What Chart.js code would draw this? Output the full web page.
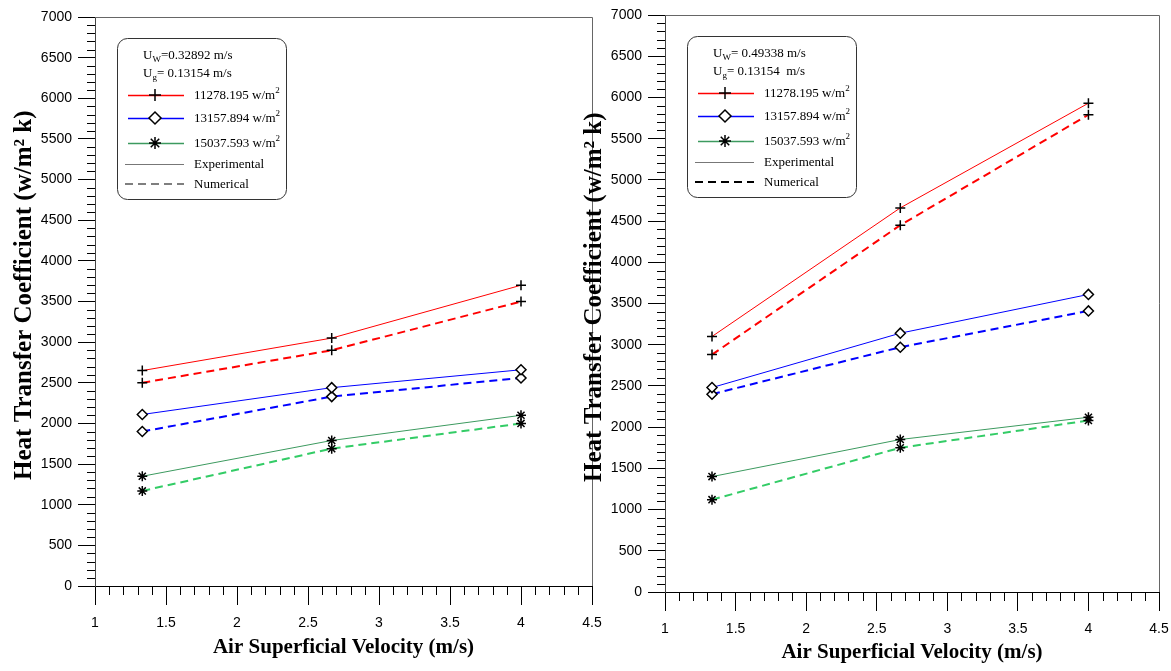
<!DOCTYPE html>
<html>
<head>
<meta charset="utf-8">
<script src="https://cdn.jsdelivr.net/npm/chart.js@4.4.0/dist/chart.umd.min.js"></script>
<style>
  html, body { margin: 0; padding: 0; background: #fff; }
  body { width: 1171px; height: 671px; position: relative; overflow: hidden; }
  .panel { position: absolute; top: 0; height: 671px; }
  #left { left: 0; width: 610px; }
  #right { left: 570px; width: 601px; }
</style>
</head>
<body>
<div class="panel" id="left"><canvas id="chartA" width="610" height="671"></canvas></div>
<div class="panel" id="right"><canvas id="chartB" width="601" height="671"></canvas></div>
<script>
/* Heat transfer coefficient vs air superficial velocity - two panels */

// ---- DATA ----
const velocity = [1.333, 2.667, 4.0];
const heatFluxLabels = ['11278.195 w/m', '13157.894 w/m', '15037.593 w/m'];

// left panel, Uw = 0.32892 m/s
const leftExp1 = [2650, 3050, 3700];
const leftNum1 = [2500, 2900, 3500];
const leftExp2 = [2110, 2440, 2660];
const leftNum2 = [1900, 2330, 2560];
const leftExp3 = [1350, 1790, 2100];
const leftNum3 = [1170, 1690, 2000];

// right panel, Uw = 0.49338 m/s
const rightExp1 = [3100, 4660, 5930];
const rightNum1 = [2880, 4450, 5790];
const rightExp2 = [2480, 3140, 3610];
const rightNum2 = [2400, 2970, 3410];
const rightExp3 = [1400, 1850, 2120];
const rightNum3 = [1120, 1750, 2080];

const xTicks = [1, 1.5, 2, 2.5, 3, 3.5, 4, 4.5];
const yTickStep = 500;

// ---- STYLE ----
const expColors = ['#ff0000', '#0000ff', '#3c9a5f'];
const numColors = ['#ff0000', '#0000ff', '#33cc66'];
const markers = ['cross', 'rectRot', 'star'];
const serif = '"Liberation Serif", "Times New Roman", serif';
const sans = '"Liberation Sans", Arial, sans-serif';

function series(values, color, marker, dashed) {
  return {
    data: velocity.map((v, i) => ({ x: v, y: values[i] })),
    borderColor: color,
    borderWidth: dashed ? 2 : 1,
    borderDash: dashed ? [8, 5] : [],
    pointStyle: marker,
    pointRadius: 5,
    pointHoverRadius: 5,
    pointBorderColor: '#000',
    pointBackgroundColor: '#fff',
    pointBorderWidth: 1.5,
    tension: 0,
    fill: false
  };
}

// minor ticks + top/right frame
const axisDecor = {
  id: 'axisDecor',
  afterDraw(chart) {
    const { ctx, chartArea: a, scales: { x, y } } = chart;
    ctx.save();
    ctx.strokeStyle = '#666';
    ctx.lineWidth = 1;
    ctx.beginPath();
    ctx.moveTo(a.left, Math.round(a.top) + 0.5);
    ctx.lineTo(Math.round(a.right) + 0.5, Math.round(a.top) + 0.5);
    ctx.lineTo(Math.round(a.right) + 0.5, a.bottom);
    ctx.stroke();

    ctx.strokeStyle = '#000';
    ctx.beginPath();
    for (let i = 10; i <= 45; i++) {
      if (i % 5 === 0) continue;
      const px = Math.round(x.getPixelForValue(i / 10)) + 0.5;
      ctx.moveTo(px, a.bottom);
      ctx.lineTo(px, a.bottom + 9);
    }
    for (let j = 0; j <= 70; j++) {
      if (j % 5 === 0) continue;
      const py = Math.round(y.getPixelForValue(j * 100)) + 0.5;
      ctx.moveTo(a.left - 8, py);
      ctx.lineTo(a.left, py);
    }
    ctx.stroke();
    ctx.restore();
  }
};

function textWithScript(ctx, base, script, rest, x, y, lift) {
  ctx.font = '13px ' + serif;
  ctx.fillText(base, x, y);
  x += ctx.measureText(base).width;
  ctx.font = '9px ' + serif;
  ctx.fillText(script, x, y + lift);
  x += ctx.measureText(script).width;
  if (rest) {
    ctx.font = '13px ' + serif;
    ctx.fillText(rest, x, y);
  }
}

// rounded legend box drawn inside the plot
const boxLegend = {
  id: 'boxLegend',
  afterDraw(chart, args, opts) {
    const { ctx, chartArea: a } = chart;
    const bx = Math.round(a.left) + 22, by = Math.round(a.top) + 21, bw = 169, bh = 161;
    ctx.save();
    ctx.fillStyle = '#fff';
    ctx.strokeStyle = '#333';
    ctx.lineWidth = 1;
    ctx.beginPath();
    ctx.roundRect(bx + 0.5, by + 0.5, bw, bh, 10);
    ctx.fill();
    ctx.stroke();

    ctx.fillStyle = '#000';
    ctx.textBaseline = 'alphabetic';
    textWithScript(ctx, 'U', 'W', opts.uw, bx + 26, by + 21, 3);
    textWithScript(ctx, 'U', 'g', opts.ug, bx + 26, by + 39, 3);

    const rows = [57, 80, 105];
    rows.forEach((ry, k) => {
      const cy = by + ry;
      ctx.strokeStyle = expColors[k];
      ctx.lineWidth = 1.3;
      ctx.setLineDash([]);
      ctx.beginPath();
      ctx.moveTo(bx + 11, cy + 0.5);
      ctx.lineTo(bx + 67, cy + 0.5);
      ctx.stroke();
      ctx.strokeStyle = '#000';
      ctx.fillStyle = '#fff';
      ctx.lineWidth = 1.5;
      Chart.helpers.drawPoint(ctx, { pointStyle: markers[k], radius: 6, borderWidth: 1.5, rotation: 0 }, bx + 38, cy);
      ctx.fillStyle = '#000';
      textWithScript(ctx, heatFluxLabels[k], '2', '', bx + 77, cy + 4, -6);
    });

    ctx.lineWidth = 1;
    ctx.strokeStyle = '#777';
    ctx.beginPath();
    ctx.moveTo(bx + 8, by + 126.5);
    ctx.lineTo(bx + 67, by + 126.5);
    ctx.stroke();
    ctx.strokeStyle = '#000';
    ctx.lineWidth = opts.dashWidth;
    ctx.setLineDash([8, 5]);
    ctx.beginPath();
    ctx.moveTo(bx + 8, by + 146);
    ctx.lineTo(bx + 67, by + 146);
    ctx.stroke();
    ctx.setLineDash([]);
    ctx.font = '13px ' + serif;
    ctx.fillText('Experimental', bx + 77, by + 130);
    ctx.fillText('Numerical', bx + 77, by + 150);
    ctx.restore();
  }
};

function makeChart(id, sets, pad, xAxisHeight, xTitlePad, uw, ug, dashWidth) {
  const datasets = [];
  sets.forEach((pair, k) => {
    datasets.push(series(pair[0], expColors[k], markers[k], false));
    datasets.push(series(pair[1], numColors[k], markers[k], true));
  });
  return new Chart(document.getElementById(id), {
    type: 'line',
    data: { datasets },
    plugins: [axisDecor, boxLegend],
    options: {
      responsive: false,
      animation: false,
      events: [],
      layout: { padding: { left: 0, top: pad.top, right: pad.right, bottom: 0 } },
      plugins: {
        legend: { display: false },
        tooltip: { enabled: false },
        boxLegend: { uw, ug, dashWidth }
      },
      scales: {
        x: {
          type: 'linear',
          min: xTicks[0],
          max: xTicks[xTicks.length - 1],
          afterBuildTicks: s => { s.ticks = xTicks.map(v => ({ value: v })); },
          afterFit: s => { s.height = xAxisHeight; s.paddingLeft = 0; s.paddingRight = 0; },
          ticks: { color: '#000', font: { family: sans, size: 14 }, padding: 10, maxRotation: 0, autoSkip: false,
                   callback: v => String(v) },
          grid: { drawOnChartArea: false, drawTicks: true, tickLength: 19, color: '#000' },
          border: { color: '#000', width: 1 },
          title: { display: true, text: 'Air Superficial Velocity (m/s)', color: '#000',
                   font: { family: serif, size: 21, weight: 'bold' }, padding: { top: 0, bottom: xTitlePad } }
        },
        y: {
          min: 0,
          max: 7000,
          afterFit: s => { s.width = 95; s.paddingTop = 0; s.paddingBottom = 0; },
          ticks: { stepSize: yTickStep, color: '#000', font: { family: sans, size: 14 }, padding: 6,
                   callback: v => String(v) },
          grid: { drawOnChartArea: false, drawTicks: true, tickLength: 17, color: '#000' },
          border: { color: '#444', width: 1 },
          title: { display: true, text: '\u00A0\u00A0Heat Transfer Coefficient (w/m\u00B2 k)', color: '#000',
                   font: { family: serif, size: 25, weight: 'bold' }, padding: { top: 10, bottom: 0 } }
        }
      }
    }
  });
}

makeChart('chartA',
  [[leftExp1, leftNum1], [leftExp2, leftNum2], [leftExp3, leftNum3]],
  { top: 17, right: 18 }, 85, 11, '=0.32892 m/s', '= 0.13154 m/s', 1.2);

makeChart('chartB',
  [[rightExp1, rightNum1], [rightExp2, rightNum2], [rightExp3, rightNum3]],
  { top: 15, right: 12 }, 79, 6, '= 0.49338 m/s', '= 0.13154  m/s', 2);
</script>
</body>
</html>
